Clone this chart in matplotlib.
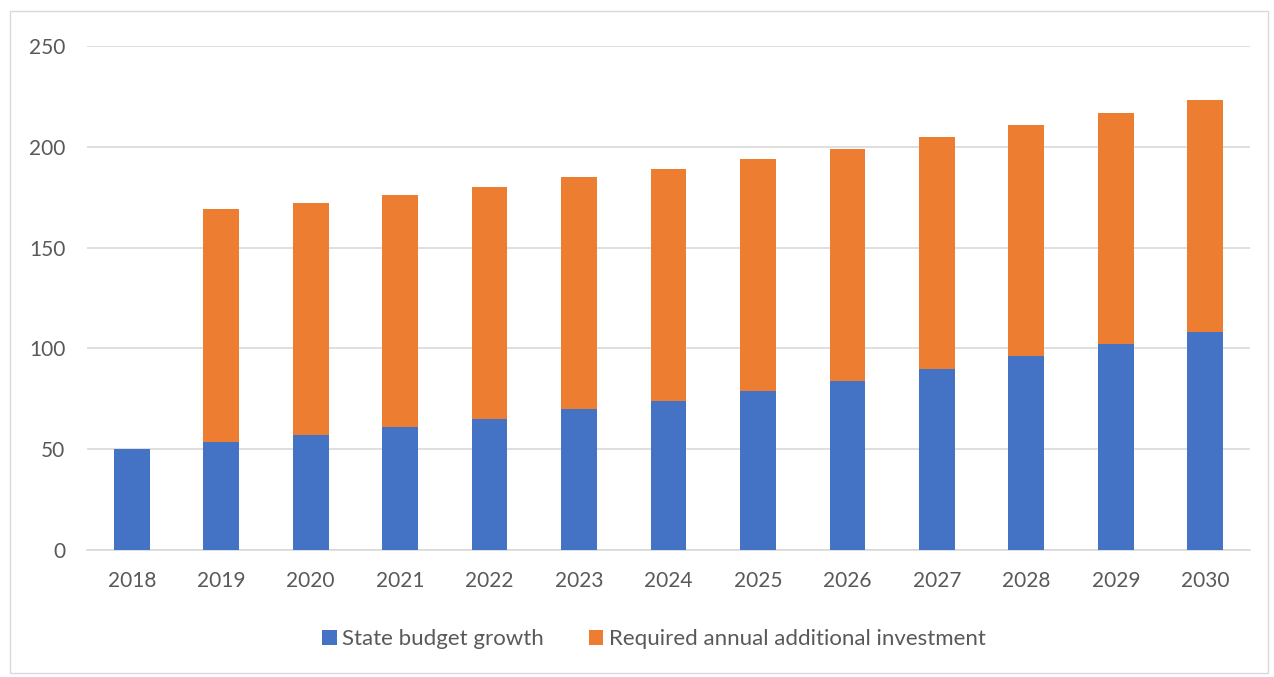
import matplotlib.pyplot as plt
from matplotlib.patches import Rectangle

years = ["2018", "2019", "2020", "2021", "2022", "2023", "2024",
         "2025", "2026", "2027", "2028", "2029", "2030"]
state_budget = [50, 53.5, 57, 61, 65, 70, 74, 79, 84, 90, 96, 102, 108]
required_invest = [0, 115.5, 115, 115, 115, 115, 115, 115, 115, 115, 115, 115, 115]

blue = "#4472C4"
orange = "#ED7D31"
text_gray = "#595959"

plt.rcParams['font.family'] = ['Lato', 'DejaVu Sans']

fig = plt.figure(figsize=(12.74, 6.77), dpi=100)
ax = fig.add_axes([87 / 1274, 1 - 550 / 677, (1250 - 87) / 1274, (550 - 46) / 677])

x = range(len(years))
ax.bar(x, state_budget, width=0.4, color=blue, label="State budget growth", zorder=3)
ax.bar(x, required_invest, width=0.4, bottom=state_budget, color=orange,
       label="Required annual additional investment", zorder=3)

ax.set_xlim(-0.5, len(years) - 0.5)
ax.set_ylim(0, 250)
ax.set_yticks(range(0, 251, 50))
ax.set_xticks(list(x))
ax.set_xticklabels(years)
ax.tick_params(axis='both', length=0, labelsize=15, labelcolor=text_gray)
ax.tick_params(axis='y', pad=15.5)
ax.tick_params(axis='x', pad=15)
ax.grid(axis='y', color="#D9D9D9", linewidth=1.2, zorder=0)
for side in ['top', 'right', 'left']:
    ax.spines[side].set_visible(False)
ax.spines['bottom'].set_color("#D9D9D9")
ax.spines['bottom'].set_linewidth(1.2)

leg = fig.legend(loc='center', bbox_to_anchor=(654 / 1274, 1 - 639 / 677), ncol=2,
                 frameon=False, fontsize=16, handlelength=0.65, handleheight=0.65,
                 handletextpad=0.25, columnspacing=2.0)
for t in leg.get_texts():
    t.set_color(text_gray)

# outer chart border
fig.patches.append(Rectangle((10 / 1274, 4 / 677), 1258 / 1274, 662 / 677,
                             transform=fig.transFigure, fill=False,
                             edgecolor="#D9D9D9", linewidth=1))

fig.savefig("out.png", dpi=100)
